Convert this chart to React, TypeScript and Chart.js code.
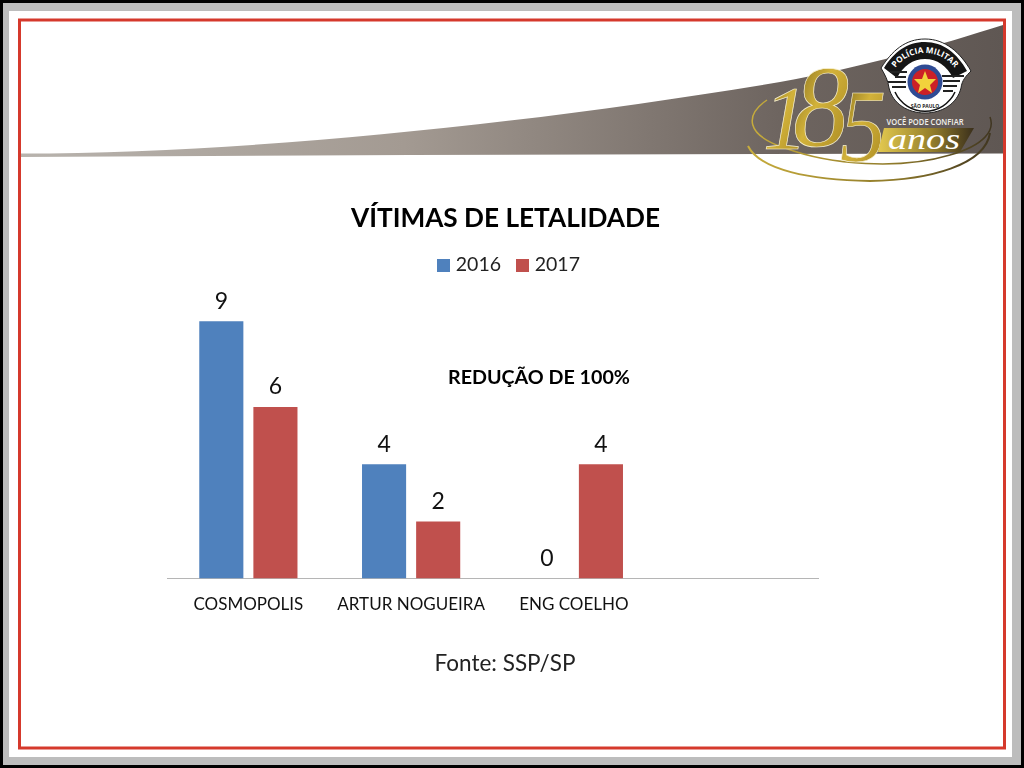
import React, { useEffect, useRef } from "react";
import { Chart, registerables } from "chart.js";

Chart.register(...registerables);

const categories = ["COSMOPOLIS", "ARTUR NOGUEIRA", "ENG COELHO", ""];
const series2016 = [9, 4, 0, null];
const series2017 = [6, 2, 4, null];
const seriesNames = ["2016", "2017"];
const seriesColors = ["#4f81bd", "#c0504d"];
const chartTitle = "VÍTIMAS DE LETALIDADE";
const note = "REDUÇÃO DE 100%";
const source = "Fonte: SSP/SP";
const FONT = "Lato, 'Open Sans', sans-serif";

function swatch(color: string) {
  const c = document.createElement("canvas");
  c.width = 13;
  c.height = 13;
  const g = c.getContext("2d") as CanvasRenderingContext2D;
  g.fillStyle = color;
  g.fillRect(0, 0, 13, 13);
  return c;
}

const barLabels = {
  id: "barLabels",
  afterLayout(chart: any) {
    chart.titleBlock.left += 13;
    chart.titleBlock.right += 13;
    chart.legend.left += 18;
    chart.legend.right += 18;
  },
  afterDatasetsDraw(chart: any) {
    const { ctx } = chart;
    ctx.save();
    ctx.fillStyle = "#111";
    ctx.textAlign = "center";
    ctx.textBaseline = "middle";
    ctx.font = `23px ${FONT}`;
    chart.data.datasets.forEach((ds: any, i: number) => {
      chart.getDatasetMeta(i).data.forEach((el: any, j: number) => {
        const v = ds.data[j];
        if (v === null || v === undefined) return;
        ctx.fillText(String(v), el.x, el.y - 20);
      });
    });
    ctx.font = `bold 19.7px ${FONT}`;
    ctx.fillStyle = "#000";
    ctx.fillText(note, 539, 378);
    ctx.font = `22.5px ${FONT}`;
    ctx.fillStyle = "#222";
    ctx.fillText(source, 505, 664);
    ctx.restore();
  },
};

function Background() {
  const serif = "'Liberation Serif', serif";
  const sans = "'Open Sans', sans-serif";
  return (
    <svg width={1024} height={768} style={{ position: "absolute", left: 0, top: 0 }}>
      <defs>
        <linearGradient id="sw" x1="21" y1="0" x2="1004" y2="0" gradientUnits="userSpaceOnUse">
          <stop offset="0" stopColor="#b8b3ad" />
          <stop offset="0.39" stopColor="#a39a92" />
          <stop offset="0.77" stopColor="#6e6560" />
          <stop offset="1" stopColor="#5f5753" />
        </linearGradient>
        <linearGradient id="gold" x1="0" y1="0" x2="1" y2="1">
          <stop offset="0" stopColor="#6f5a16" />
          <stop offset="0.45" stopColor="#d2b23a" />
          <stop offset="1" stopColor="#a4841f" />
        </linearGradient>
        <linearGradient id="band" x1="0" y1="0" x2="1" y2="0">
          <stop offset="0" stopColor="#e3c94f" />
          <stop offset="0.55" stopColor="#96802c" />
          <stop offset="1" stopColor="#3a2f1b" />
        </linearGradient>
        <linearGradient id="ring" x1="748" y1="0" x2="992" y2="0" gradientUnits="userSpaceOnUse">
          <stop offset="0" stopColor="#c8ad3c" />
          <stop offset="0.6" stopColor="#8f7a2a" />
          <stop offset="1" stopColor="#3f3520" />
        </linearGradient>
        <path id="badgeArc" d="M890 78 A37 37 0 0 1 960 78" fill="none" />
      </defs>
      <rect x={0} y={0} width={1024} height={768} fill="#000" />
      <rect x={3} y={3} width={1018} height={762} fill="#bdbdbd" />
      <rect x={9} y={11} width={1003} height={746} fill="#fff" />
      <rect x={19.5} y={20} width={985} height={728} fill="#fff" stroke="#d5392c" strokeWidth={3} />
      <path d="M21 153.5 C 260 153, 540 122, 780 82 C 860 68, 940 45, 1003 25 L1003 153.5 L 410 155 L 21 157 Z" fill="url(#sw)" />

      <path d="M767 100 C 745 115, 745 135, 785 148 C 830 165, 900 170, 950 155 C 985 145, 995 130, 990 117" fill="none" stroke="url(#ring)" strokeWidth={1.5} />
      <path d="M748 146 C 760 170, 810 180, 870 181 C 930 180, 985 165, 990 133" fill="none" stroke="url(#ring)" strokeWidth={2} />
      <g fontFamily={serif} fontStyle="italic" fill="url(#gold)" stroke="#f6efcf" strokeWidth={0.7}>
        <text x={763} y={149} fontSize={90}>1</text>
        <text x={793} y={146} fontSize={116} textLength={56} lengthAdjust="spacingAndGlyphs">8</text>
        <text x={840} y={161} fontSize={104} textLength={46} lengthAdjust="spacingAndGlyphs">5</text>
      </g>
      <path d="M884 128 L974 128 L960 152 L878 152 Z" fill="url(#band)" />
      <text x={888} y={149} fontFamily={serif} fontStyle="italic" fontSize={29} fill="#fff" textLength={72} lengthAdjust="spacingAndGlyphs">anos</text>
      <text x={925} y={125} textAnchor="middle" fontFamily={sans} fontWeight={600} fontSize={9.5} fill="#f2f0ec" textLength={77} lengthAdjust="spacingAndGlyphs">VOCÊ PODE CONFIAR</text>

      <path d="M925 39 C 945 39, 960 52, 971 71 C 966 76, 962 80, 961 88 C 957 104, 942 113, 925 113 C 908 113, 893 104, 889 88 C 888 80, 885 75, 881 68 C 892 51, 905 39, 925 39 Z" fill="#fff" stroke="#222" strokeWidth={1} />
      <path d="M925 42 C 943 42, 957 53, 967 71 L 953 78 C 947 66, 937 59, 925 59 C 913 59, 903 66, 897 78 L 884 68 C 894 52, 907 42, 925 42 Z" fill="#151515" />
      <text fontFamily={sans} fontWeight={700} fontSize={8.2} fill="#fff">
        <textPath href="#badgeArc" startOffset="50%" textAnchor="middle">POLÍCIA MILITAR</textPath>
      </text>
      <path d="M890 72 H907 M895 77 H906 M888 82 H906 M892 87 H906 M942 76 H964 M943 81 H960 M943 86 H957 M943 91 H953" stroke="#222" strokeWidth={2} />
      <circle cx={925} cy={82} r={17.5} fill="#2f4b94" />
      <circle cx={925} cy={82} r={13} fill="#cc2027" />
      <path d="M925 71 L928 79 L936 79 L930 85 L932 93 L925 88 L918 93 L920 85 L914 79 L922 79 Z" fill="#f2d23c" />
      <path d="M895 92 A33 33 0 0 0 955 92" fill="none" stroke="#111" strokeWidth={1.5} />
      <text x={925} y={108} textAnchor="middle" fontFamily={sans} fontWeight={700} fontSize={5} fill="#222">SÃO PAULO</text>
    </svg>
  );
}

export default function App() {
  const ref = useRef<HTMLCanvasElement | null>(null);
  useEffect(() => {
    document.body.style.margin = "0";
    const chart = new Chart(ref.current as HTMLCanvasElement, {
      type: "bar",
      data: {
        labels: categories,
        datasets: [
          { label: seriesNames[0], data: series2016, backgroundColor: seriesColors[0], pointStyle: swatch(seriesColors[0]) },
          { label: seriesNames[1], data: series2017, backgroundColor: seriesColors[1], pointStyle: swatch(seriesColors[1]) },
        ],
      },
      options: {
        responsive: false,
        animation: false,
        layout: { padding: { left: 167, right: 196, top: 0, bottom: 137 } },
        datasets: { bar: { categoryPercentage: 0.665, barPercentage: 0.815 } },
        plugins: {
          tooltip: { enabled: false },
          title: {
            display: true,
            text: chartTitle,
            color: "#000",
            font: { family: FONT, size: 26.2, weight: "bold" },
            padding: { top: 203, bottom: 2 },
          },
          legend: {
            display: true,
            labels: {
              usePointStyle: true,
              pointStyleWidth: 5,
              boxHeight: 13,
              padding: 19,
              color: "#222",
              font: { family: FONT, size: 19.5 },
            },
          },
        },
        scales: {
          x: {
            grid: { display: false, drawTicks: false },
            border: { color: "#b5b5b5", width: 1 },
            ticks: { color: "#111", font: { family: FONT, size: 17 }, padding: 16, maxRotation: 0, autoSkip: false },
          },
          y: { display: false, min: 0, max: 10.27 },
        },
      },
      plugins: [barLabels],
    } as any);
    return () => chart.destroy();
  }, []);
  return (
    <div style={{ position: "absolute", left: 0, top: 0, width: 1024, height: 768, overflow: "hidden" }}>
      <Background />
      <canvas ref={ref} width={1014} height={768} style={{ position: "absolute", left: 0, top: 0 }} />
    </div>
  );
}
